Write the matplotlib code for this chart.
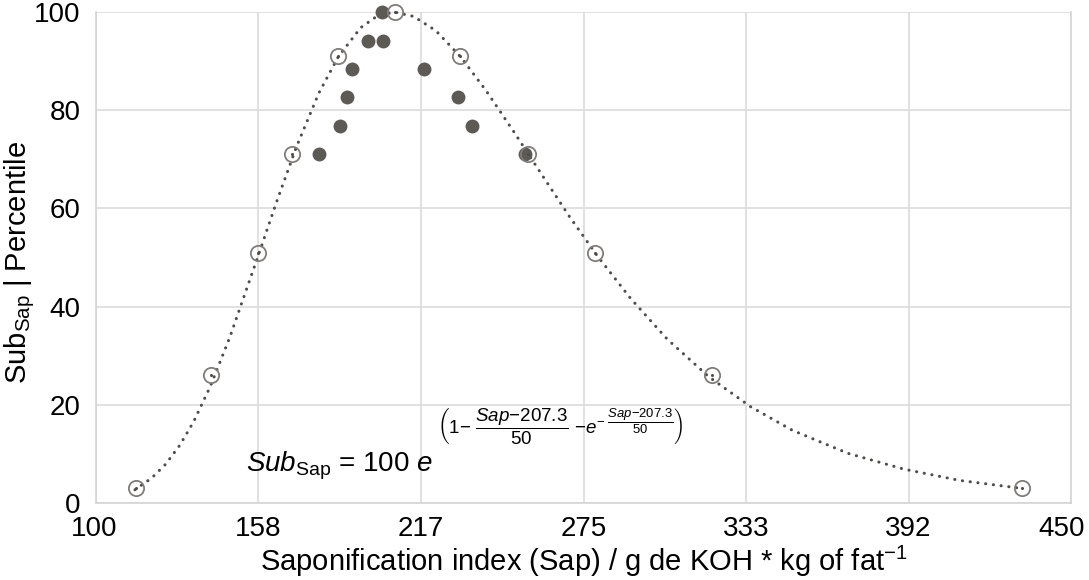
import matplotlib
matplotlib.use('Agg')
import matplotlib.pyplot as plt
from matplotlib.transforms import ScaledTranslation

plt.rcParams['font.family'] = ['Liberation Sans', 'DejaVu Sans']
plt.rcParams['mathtext.fontset'] = 'custom'
plt.rcParams['mathtext.rm'] = 'Liberation Sans'
plt.rcParams['mathtext.it'] = 'Liberation Sans:italic'
plt.rcParams['mathtext.bf'] = 'Liberation Sans:bold'

# model curve (dotted)
curve_x = [114, 120, 125, 130, 135, 141, 148, 158, 165, 172, 180, 187, 195, 201,
           207, 214, 222, 231, 240, 250, 260, 270, 280, 292, 305, 320, 335, 350,
           370, 390, 410, 432]
curve_y = [2.7, 5.1, 7.9, 11.7, 16.5, 23.7, 33.7, 50, 61.6, 72.6, 83.5, 90.9, 96.8, 99.2,
           100, 99.1, 96.2, 90.8, 84.0, 75.6, 66.9, 58.3, 50.3, 41.6, 33.4, 25.7, 19.6, 14.8,
           10.1, 6.9, 4.6, 3.0]

# percentile points on the model (open circles)
open_x = [114.4, 141.3, 158.1, 170.4, 186.9, 207.3, 230.7, 255.1, 279.1, 321.1, 432.4]
open_y = [3, 26, 51, 71, 91, 100, 91, 71, 51, 26, 3]

# observed points (filled)
obs_x = [180.0, 187.6, 190.1, 191.9, 197.6, 203.0, 202.7, 217.7, 229.9, 235.0, 254.0]
obs_y = [71.1, 76.8, 82.7, 88.4, 94.1, 94.1, 100, 88.4, 82.7, 76.8, 71.1]

xticks = [100, 158.33, 216.67, 275, 333.33, 391.67, 450]
xtick_labels = ['100', '158', '217', '275', '333', '392', '450']
yticks = [0, 20, 40, 60, 80, 100]

fig = plt.figure(figsize=(10.89, 5.8), dpi=100)
ax = fig.add_axes([96/1089, 1 - 503/580, 975/1089, 491/580])

ax.plot(curve_x, curve_y, color='#4f4c4a', lw=2.2, linestyle=(0, (0.05, 2.5)),
        dash_capstyle='round', zorder=2, clip_on=False)
ax.plot(obs_x, obs_y, 'o', color='#5d5955', markersize=10, markeredgewidth=0,
        zorder=3, clip_on=False)
ax.plot(open_x, open_y, 'o', markerfacecolor='none', markeredgecolor='#807c79',
        markersize=11, markeredgewidth=1.3, zorder=4, clip_on=False)
ax.plot(open_x, open_y, 'o', color='#4f4c4a', markersize=2.2, markeredgewidth=0,
        zorder=5, clip_on=False)

ax.set_xlim(100, 450)
ax.set_ylim(0, 100)
ax.set_xticks(xticks)
ax.set_xticklabels(xtick_labels)
ax.set_yticks(yticks)
ax.tick_params(length=0, labelsize=20, colors='black')
ax.tick_params(axis='x', pad=9)
ax.tick_params(axis='y', pad=11)
ax.grid(True, color='#dcdcdc', lw=1.2)
ax.set_axisbelow(True)
for s in ax.spines.values():
    s.set_color('#d4d4d4')
    s.set_linewidth(1.2)
ax.spines['top'].set_visible(False)

# end labels pulled inwards a little, like the original
labels = ax.get_xticklabels()
labels[0].set_transform(labels[0].get_transform() + ScaledTranslation(-0.02, 0, fig.dpi_scale_trans))
labels[-1].set_transform(labels[-1].get_transform() + ScaledTranslation(-0.09, 0, fig.dpi_scale_trans))

ax.set_xlabel(r'Saponification index (Sap) / g de KOH * kg of fat$^{-1}$', fontsize=21, labelpad=2)
ax.set_ylabel(r'Sub$_{\rm Sap}$ | Percentile', fontsize=21)
ax.yaxis.set_label_coords(-0.061, 0.49)

# formula
fig.text(246/1089, 1 - 471/580, r'$\mathit{Sub}_{\rm Sap}$ = 100 $\mathit{e}$',
         fontsize=20, ha='left', va='baseline')
fig.text(437/1089, 1 - 426/580,
         r'$\left(1{-}\ \dfrac{\mathit{Sap}{-}207.3}{50}\ {-}\mathit{e}^{{-}\ \dfrac{\mathit{Sap}{-}207.3}{50}}\right)$',
         fontsize=13.5, ha='left', va='center')

fig.savefig('out.png', dpi=100)
